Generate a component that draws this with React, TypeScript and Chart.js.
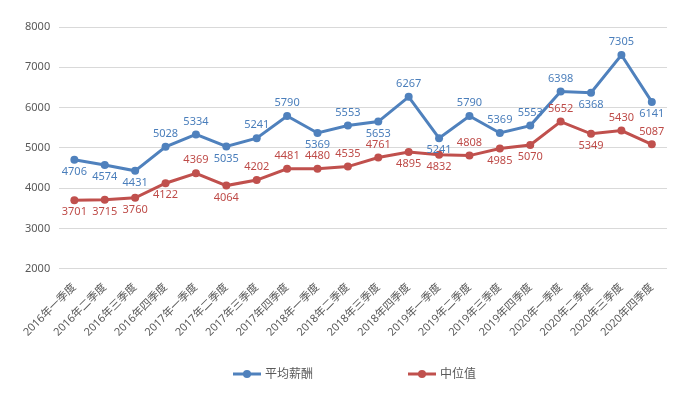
import React, { useEffect, useRef } from "react";
import { Chart, registerables } from "chart.js";

Chart.register(...registerables);

const categories = [
  "2016年一季度", "2016年二季度", "2016年三季度", "2016年四季度",
  "2017年一季度", "2017年二季度", "2017年三季度", "2017年四季度",
  "2018年一季度", "2018年二季度", "2018年三季度", "2018年四季度",
  "2019年一季度", "2019年二季度", "2019年三季度", "2019年四季度",
  "2020年一季度", "2020年二季度", "2020年三季度", "2020年四季度",
];

const avgSalary = [4706, 4574, 4431, 5028, 5334, 5035, 5241, 5790, 5369, 5553, 5653, 6267, 5241, 5790, 5369, 5553, 6398, 6368, 7305, 6141];
const medianSalary = [3701, 3715, 3760, 4122, 4369, 4064, 4202, 4481, 4480, 4535, 4761, 4895, 4832, 4808, 4985, 5070, 5652, 5349, 5430, 5087];

// label placement: "a" = above, "b" = below
const avgLabelPos = ["b", "b", "b", "a", "a", "b", "a", "a", "b", "a", "b", "a", "b", "a", "a", "a", "a", "b", "a", "b"];
const medianLabelPos = ["b", "b", "b", "b", "a", "b", "a", "a", "a", "a", "a", "b", "b", "a", "b", "b", "a", "b", "a", "a"];

const seriesNames = ["平均薪酬", "中位值"];
const yTicks = [2000, 3000, 4000, 5000, 6000, 7000, 8000];

const BLUE = "#4f81bd";
const RED = "#c0504d";
const BLUE_TEXT = "#4a7ebb";
const RED_TEXT = "#be4b48";
const GREY = "#595959";
const FONT = "'Noto Sans', 'Noto Sans CJK SC', sans-serif";

const labelPlugin = {
  id: "pointLabels",
  afterDatasetsDraw(chart: any) {
    const ctx = chart.ctx;
    const posArrays = [avgLabelPos, medianLabelPos];
    const colors = [BLUE_TEXT, RED_TEXT];
    ctx.save();
    ctx.font = `11px ${FONT}`;
    ctx.textAlign = "center";
    ctx.textBaseline = "middle";
    chart.data.datasets.forEach((ds: any, di: number) => {
      const meta = chart.getDatasetMeta(di);
      ctx.fillStyle = colors[di];
      meta.data.forEach((pt: any, i: number) => {
        const pos = posArrays[di][i];
        const y = pos === "a" ? pt.y - 13 : pt.y + 12;
        ctx.fillText(String(ds.data[i]), pt.x, y);
      });
    });
    ctx.restore();
  },
};

const legendPlugin = {
  id: "customLegend",
  afterDraw(chart: any) {
    const ctx = chart.ctx;
    ctx.save();
    ctx.font = `12px ${FONT}`;
    ctx.textBaseline = "middle";
    ctx.textAlign = "left";
    const colors = [BLUE, RED];
    const markerW = 28;
    const gap = 4;
    const itemGap = 95;
    const widths = seriesNames.map((n) => ctx.measureText(n).width);
    const total = widths.reduce((s, w) => s + markerW + gap + w, 0) + itemGap;
    let x = chart.width / 2 - total / 2 + 11;
    const y = chart.height - 19;
    seriesNames.forEach((name, i) => {
      ctx.strokeStyle = colors[i];
      ctx.lineWidth = 3;
      ctx.beginPath();
      ctx.moveTo(x, y);
      ctx.lineTo(x + markerW, y);
      ctx.stroke();
      ctx.fillStyle = colors[i];
      ctx.beginPath();
      ctx.arc(x + markerW / 2, y, 4, 0, Math.PI * 2);
      ctx.fill();
      ctx.fillStyle = GREY;
      ctx.fillText(name, x + markerW + gap, y + 1);
      x += markerW + gap + widths[i] + itemGap;
    });
    ctx.restore();
  },
};

export default function App() {
  const ref = useRef<HTMLCanvasElement>(null);
  useEffect(() => {
    if (!ref.current) return;
    const chart = new Chart(ref.current, {
      type: "line",
      data: {
        labels: categories,
        datasets: [
          {
            label: seriesNames[0],
            data: avgSalary,
            borderColor: BLUE,
            backgroundColor: BLUE,
            borderWidth: 3,
            pointRadius: 4,
            pointBorderWidth: 0,
            pointHoverRadius: 4,
            tension: 0,
          },
          {
            label: seriesNames[1],
            data: medianSalary,
            borderColor: RED,
            backgroundColor: RED,
            borderWidth: 3,
            pointRadius: 4,
            pointBorderWidth: 0,
            pointHoverRadius: 4,
            tension: 0,
          },
        ],
      },
      options: {
        responsive: false,
        animation: false,
        layout: { padding: { left: 16, right: 20, top: 27, bottom: 50 } },
        plugins: {
          legend: { display: false },
          tooltip: { enabled: false },
        },
        scales: {
          x: {
            offset: true,
            grid: { display: false },
            border: { display: false },
            ticks: {
              minRotation: 45,
              maxRotation: 45,
              autoSkip: false,
              color: GREY,
              padding: 4,
              font: { size: 11, family: FONT },
            },
          },
          y: {
            min: 2000,
            max: 8000,
            afterBuildTicks: (axis: any) => {
              axis.ticks = yTicks.map((v) => ({ value: v }));
            },
            grid: { color: "#d9d9d9", drawTicks: false, lineWidth: 1 },
            border: { display: false },
            ticks: {
              color: GREY,
              padding: 9,
              font: { size: 11, family: FONT },
              callback: (v: any) => String(v),
            },
          },
        },
      },
      plugins: [labelPlugin, legendPlugin],
    });
    return () => chart.destroy();
  }, []);
  return (
    <div style={{ position: "fixed", left: 0, top: 0, width: 687, height: 393, background: "#fff" }}>
      <canvas ref={ref} width={687} height={393} style={{ width: 687, height: 393 }} />
    </div>
  );
}
